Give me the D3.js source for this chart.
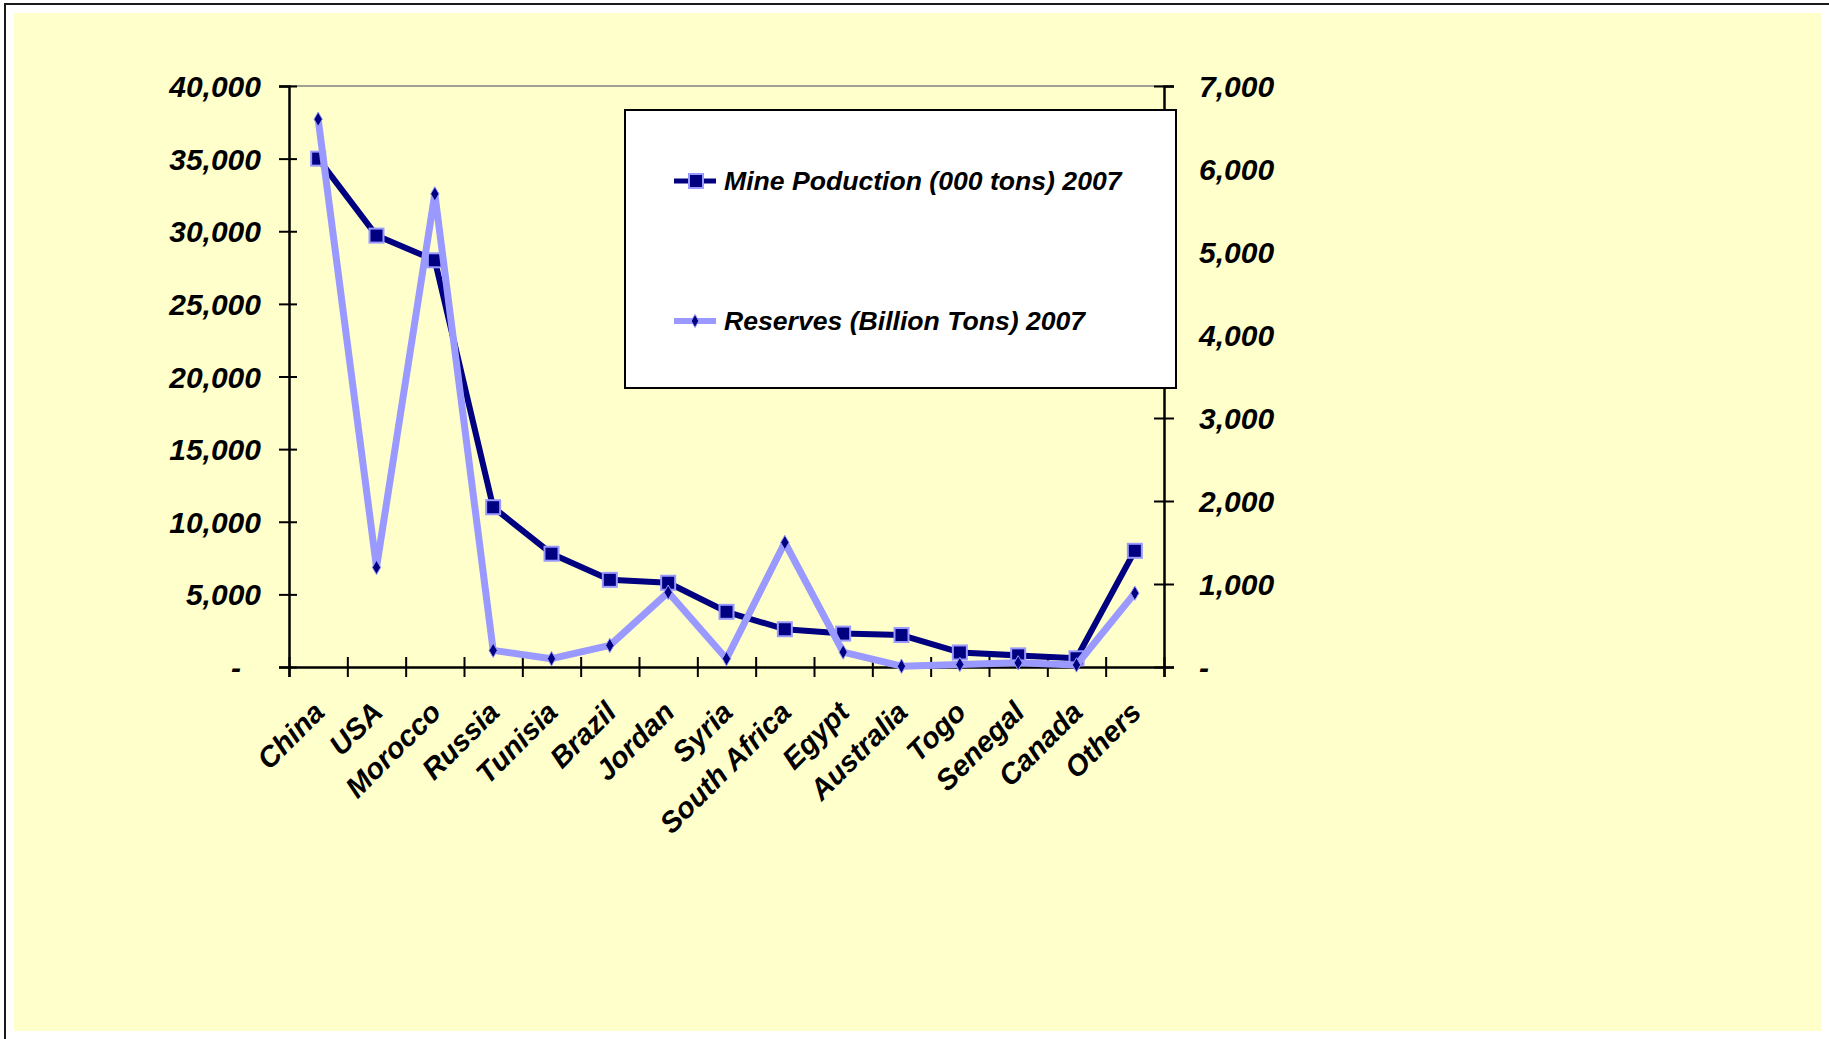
<!DOCTYPE html>
<html>
<head>
<meta charset="utf-8">
<script src="https://cdn.jsdelivr.net/npm/d3@7"></script>
<style>
html,body{margin:0;padding:0;background:#ffffff;}
svg{display:block;}
text{font-family:"Liberation Sans",Arial,sans-serif;}
</style>
</head>
<body>
<svg id="chart" width="1829" height="1039"></svg>
<script>
const categories = ["China","USA","Morocco","Russia","Tunisia","Brazil","Jordan","Syria","South Africa","Egypt","Australia","Togo","Senegal","Canada","Others"];
const mineProduction = [35000,29700,28000,11000,7800,6000,5800,3800,2600,2300,2200,1000,800,600,8000];
const reserves = [6600,1200,5700,200,100,260,900,100,1500,180,10,30,50,25,890];
const leftTicks = [0,5000,10000,15000,20000,25000,30000,35000,40000];
const rightTicks = [0,1000,2000,3000,4000,5000,6000,7000];
const seriesNames = ["Mine Poduction (000 tons) 2007","Reserves (Billion Tons) 2007"];

(function(){
const svg = d3.select("#chart");

// frame and background
svg.append("rect").attr("x",5).attr("y",4).attr("width",1900).attr("height",1100)
  .attr("fill","#ffffff").attr("stroke","#1a1a1a").attr("stroke-width",2);
svg.append("rect").attr("x",14).attr("y",13).attr("width",1807).attr("height",1018)
  .attr("fill","#FFFFCC");

const pL = 289, pR = 1164, pT = 86, pB = 667;

const x = d3.scaleBand().domain(categories).range([pL,pR]).padding(0);
const xEdge = d3.scaleLinear().domain([0,categories.length]).range([pL,pR]);
const yL = d3.scaleLinear().domain([0,40000]).range([pB,pT]);
const yR = d3.scaleLinear().domain([0,7000]).range([pB,pT]);

const fmt = d3.format(",");

// top border of plot area
svg.append("line").attr("x1",pL).attr("x2",pR).attr("y1",pT).attr("y2",pT)
  .attr("stroke","#808080").attr("stroke-width",1.5);

// left axis
const gL = svg.append("g").attr("transform",`translate(${pL},0)`)
  .call(d3.axisLeft(yL).tickValues(leftTicks).tickSize(10).tickFormat(d => d===0 ? "-" : fmt(d)));
gL.select(".domain").attr("stroke","#000").attr("stroke-width",2.5);
gL.selectAll(".tick line").attr("x1",-10).attr("x2",8).attr("stroke","#000").attr("stroke-width",2);
gL.selectAll(".tick text").attr("x",-28).attr("dy","0.35em")
  .style("font-size","30px").style("font-weight","bold").style("font-style","italic").attr("fill","#000")
  .attr("dx", d => d===0 ? -20 : 0);

// right axis
const gR = svg.append("g").attr("transform",`translate(${pR},0)`)
  .call(d3.axisRight(yR).tickValues(rightTicks).tickSize(10).tickFormat(d => d===0 ? "-" : fmt(d)));
gR.select(".domain").attr("stroke","#000").attr("stroke-width",2.5);
gR.selectAll(".tick line").attr("x1",-10).attr("x2",10).attr("stroke","#000").attr("stroke-width",2);
gR.selectAll(".tick text").attr("x",35).attr("dy","0.35em")
  .style("font-size","30px").style("font-weight","bold").style("font-style","italic").attr("fill","#000");

// bottom axis (ticks at category boundaries)
const gB = svg.append("g").attr("transform",`translate(0,${pB})`)
  .call(d3.axisBottom(xEdge).tickValues(d3.range(categories.length+1)).tickSize(10).tickFormat(""));
gB.select(".domain").attr("stroke","#000").attr("stroke-width",2.5);
gB.selectAll(".tick line").attr("y1",-10).attr("y2",10).attr("stroke","#000").attr("stroke-width",2);

// category labels
svg.append("g").selectAll("text").data(categories).join("text")
  .attr("transform", d => `translate(${x(d)+x.bandwidth()/2+8},${pB+47}) rotate(-45)`)
  .attr("text-anchor","end")
  .style("font-size","29px").style("font-weight","bold").style("font-style","italic")
  .attr("fill","#000").text(d => d);

const cx = d => x(d)+x.bandwidth()/2;

// Mine production line
const lineL = d3.line().x((d,i)=>cx(categories[i])).y(d=>yL(d));
svg.append("path").datum(mineProduction).attr("d",lineL)
  .attr("fill","none").attr("stroke","#000080").attr("stroke-width",6).attr("stroke-linejoin","round");
svg.append("g").selectAll("rect").data(mineProduction).join("rect")
  .attr("x",(d,i)=>cx(categories[i])-7).attr("y",d=>yL(d)-7)
  .attr("width",14).attr("height",14)
  .attr("fill","#000080").attr("stroke","#9999FF").attr("stroke-width",2);

// Reserves line
const lineR = d3.line().x((d,i)=>cx(categories[i])).y(d=>yR(d));
svg.append("path").datum(reserves).attr("d",lineR)
  .attr("fill","none").attr("stroke","#9999FF").attr("stroke-width",7).attr("stroke-linejoin","round");
const diamond = d3.symbol().type(d3.symbolDiamond).size(60);
svg.append("g").selectAll("path").data(reserves).join("path")
  .attr("transform",(d,i)=>`translate(${cx(categories[i])},${yR(d)})`)
  .attr("d",diamond)
  .attr("fill","#000080").attr("stroke","#9999FF").attr("stroke-width",1);

// legend
const lg = svg.append("g");
lg.append("rect").attr("x",625).attr("y",110).attr("width",551).attr("height",278)
  .attr("fill","#ffffff").attr("stroke","#000").attr("stroke-width",2);
const legY = [181,321];
lg.append("line").attr("x1",674).attr("x2",716).attr("y1",legY[0]).attr("y2",legY[0])
  .attr("stroke","#000080").attr("stroke-width",5);
lg.append("rect").attr("x",689).attr("y",legY[0]-7).attr("width",14).attr("height",14)
  .attr("fill","#000080").attr("stroke","#9999FF").attr("stroke-width",2);
lg.append("line").attr("x1",674).attr("x2",716).attr("y1",legY[1]).attr("y2",legY[1])
  .attr("stroke","#9999FF").attr("stroke-width",6);
lg.append("path").attr("transform",`translate(695,${legY[1]})`).attr("d",d3.symbol().type(d3.symbolDiamond).size(50))
  .attr("fill","#000080").attr("stroke","#9999FF").attr("stroke-width",1);
lg.selectAll("text.leg").data(seriesNames).join("text").attr("class","leg")
  .attr("x",724).attr("y",(d,i)=>legY[i]).attr("dy","0.35em")
  .style("font-size","26.6px").style("font-weight","bold").style("font-style","italic")
  .attr("fill","#000").text(d=>d);
})();
</script>
</body>
</html>
